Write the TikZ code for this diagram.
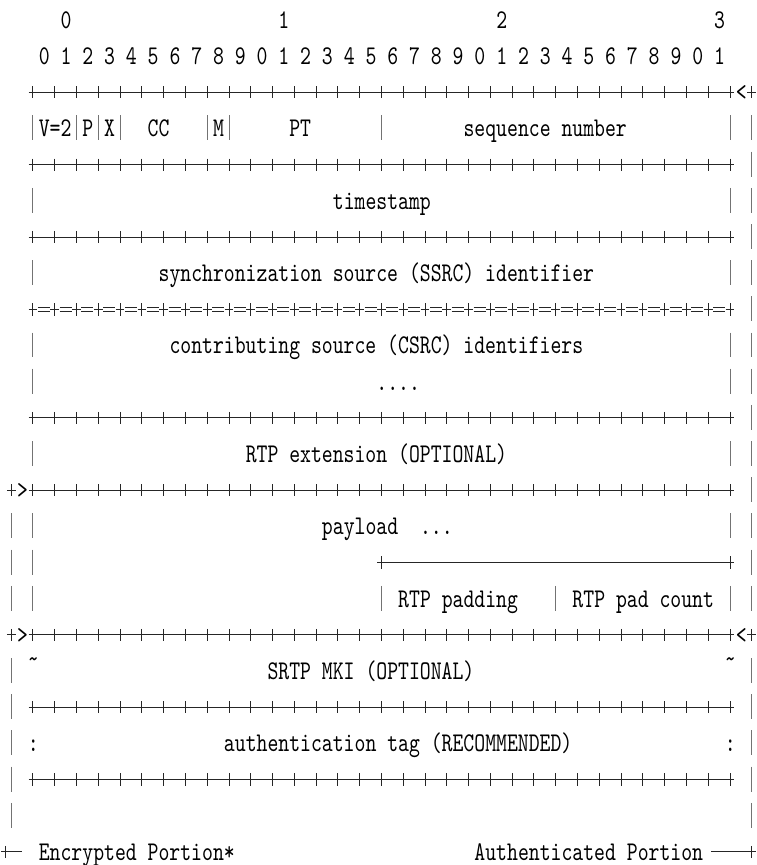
\documentclass[tikz,border=0pt]{standalone}
\usepackage{fontspec}
\setmonofont{lmmono10-regular}[Extension=.otf,FakeStretch=0.768]
\begin{document}
\begin{tikzpicture}[x=5.445pt,y=-18.085pt,
  lbl/.style={anchor=base west,inner sep=0pt,font=\ttfamily\fontsize{13.5pt}{16pt}\selectfont},
  rl/.style={line width=0.5pt,black!85},
  tk/.style={line width=0.5pt,black!85},
  bar/.style={line width=0.5pt,black!55}]
\useasboundingbox (-1.0285,-0.553) rectangle (68.39,23.36);
% bit numbers
\foreach \d in {0,...,3}
  \node[lbl] (top\d) at (4.5+20*\d,0.23) {\d};
\foreach \k in {0,...,31}{
  \pgfmathtruncatemacro{\bitno}{mod(\k,10)}
  \node[lbl] (bit\k) at (2.5+2*\k,1.23) {\bitno};
}
% +-+-+ rows
\foreach \r in {2,4,6,11,13,17,19,21}{
  \draw[rl] (1.6,\r) -- (66.4,\r);
  \foreach \c in {2,4,...,66}
    \draw[tk] (\c,\r-0.17) -- (\c,\r+0.17);
}
% +=+=+ row under the SSRC
\foreach \c in {2,4,...,66}
  \draw[tk] (\c,8-0.17) -- (\c,8+0.17) (\c-0.4,8) -- (\c+0.4,8);
\foreach \c in {2,4,...,64}
  \draw[rl] (\c+0.45,8-0.06) -- (\c+1.55,8-0.06)
            (\c+0.45,8+0.06) -- (\c+1.55,8+0.06);
% single + signs and plain dashes
\foreach \c/\r in {0/13,0/17,68/2,68/17,-0.5/23,68/23,34/15,66/15}
  \draw[tk] (\c,\r-0.17) -- (\c,\r+0.17) (\c-0.4,\r) -- (\c+0.4,\r);
\draw[rl] (34,15) -- (66,15);
\draw[rl] (-0.5,23) -- (0.95,23);
\draw[rl] (64.3,23) -- (68,23);
% vertical bars
\foreach \c/\r in {2/3,6/3,8/3,10/3,18/3,20/3,34/3,66/3,68/3,68/4,
    2/5,66/5,68/5,68/6,2/7,66/7,68/7,68/8,2/9,66/9,68/9,2/10,66/10,68/10,
    68/11,2/12,66/12,68/12,68/13,0/14,2/14,66/14,68/14,0/15,2/15,68/15,
    0/16,2/16,34/16,50/16,66/16,68/16,0/18,68/18,0/19,68/19,0/20,68/20,
    0/21,68/21,0/22,68/22}
  \draw[bar] (\c,\r-0.36) -- (\c,\r+0.33);
% RTP header fields
\node[lbl] (ver) at (2.5,3.23) {V=2};
\node[lbl] (padflag) at (6.5,3.23) {P};
\node[lbl] (extflag) at (8.5,3.23) {X};
\node[lbl] (cc) at (12.5,3.23) {CC};
\node[lbl] (mark) at (18.5,3.23) {M};
\node[lbl] (pt) at (25.5,3.23) {PT};
\node[lbl] (seq) at (41.5,3.23) {sequence number};
\node[lbl] (ts) at (29.5,5.23) {timestamp};
\node[lbl] (ssrc) at (13.5,7.23) {synchronization source (SSRC) identifier};
\node[lbl] (csrc) at (14.5,9.23) {contributing source (CSRC) identifiers};
\node[lbl] (csrcdots) at (33.5,10.23) {....};
\node[lbl] (rtpext) at (21.5,12.23) {RTP extension (OPTIONAL)};
% payload and padding
\node[lbl] (payload) at (28.5,14.23) {payload};
\node[lbl] (paydots) at (37.5,14.23) {...};
\node[lbl] (padding) at (35.5,16.23) {RTP padding};
\node[lbl] (padcnt) at (51.5,16.23) {RTP pad count};
% SRTP trailer
\node[lbl] (mki) at (23.5,18.23) {SRTP MKI (OPTIONAL)};
\node[lbl] (mkil) at (1.5,17.9) {\textasciitilde};
\node[lbl] (mkir) at (65.5,17.9) {\textasciitilde};
\node[lbl] (tag) at (19.5,20.23) {authentication tag (RECOMMENDED)};
\node[lbl] (tagl) at (1.5,20.23) {:};
\node[lbl] (tagr) at (65.5,20.23) {:};
% portion marks
\node[lbl] (encin) at (0.5,13.23) {>};
\node[lbl] (encout) at (0.5,17.23) {>};
\node[lbl] (authin) at (66.5,2.23) {<};
\node[lbl] (authout) at (66.5,17.23) {<};
\node[lbl] (enc) at (2.5,23.23) {Encrypted Portion*};
\node[lbl] (auth) at (42.5,23.23) {Authenticated Portion};
\end{tikzpicture}
\end{document}
